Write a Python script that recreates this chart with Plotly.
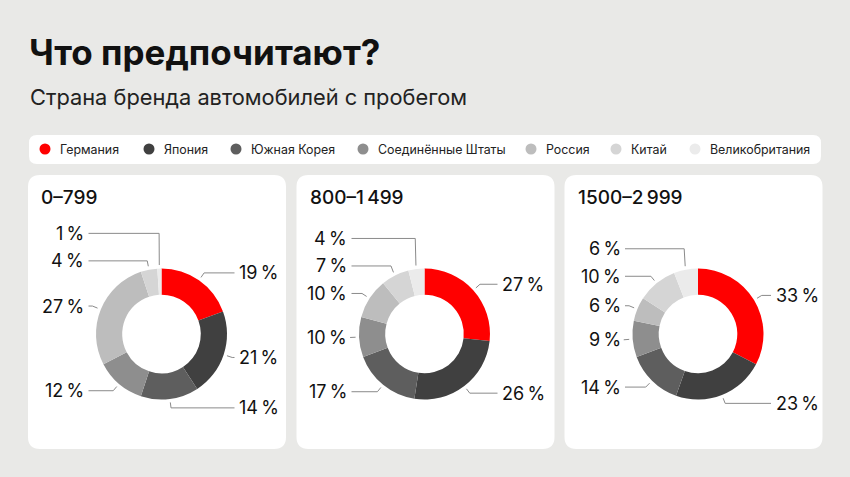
import math
import plotly.graph_objects as go

W, H = 850, 477

# ---- data ----
countries = ["Германия", "Япония", "Южная Корея", "Соединённые Штаты", "Россия", "Китай", "Великобритания"]
colors = ["#ff0000", "#404040", "#5e5e5e", "#8e8e8e", "#bdbdbd", "#d5d5d5", "#ebebeb"]
groups = ["0–799", "800–1\u202f499", "1500–2\u202f999"]
share_0_799 = [19, 21, 14, 12, 27, 4, 1]
share_800_1499 = [27, 26, 17, 10, 10, 7, 4]
share_1500_2999 = [33, 23, 14, 9, 6, 10, 6]
series = [share_0_799, share_800_1499, share_1500_2999]

title = "Что предпочитают?"
subtitle = "Страна бренда автомобилей с пробегом"

# ---- layout constants ----
BG = "#e9e9e7"
FONT = "Inter"
panel_x0 = [28, 296.5, 564.5]
panel_w = 258
panel_y0, panel_y1 = 175, 449
centers_x = [161.5, 424.5, 698]
cy = 334
R = 65.5
HOLE = 0.6
legend_dot_x = [45, 149, 236, 363, 531, 616, 695]
legend_y = 149


def rounded_rect(x0, y0, x1, y1, r):
    return (f"M{x0+r},{y0} L{x1-r},{y0} Q{x1},{y0} {x1},{y0+r} "
            f"L{x1},{y1-r} Q{x1},{y1} {x1-r},{y1} L{x0+r},{y1} "
            f"Q{x0},{y1} {x0},{y1-r} L{x0},{y0+r} Q{x0},{y0} {x0+r},{y0} Z")


fig = go.Figure()
shapes = []
annotations = []

# invisible scatter to anchor axes
fig.add_trace(go.Scatter(x=[0, W], y=[0, H], mode="markers",
                         marker=dict(opacity=0), hoverinfo="skip", showlegend=False))

# title / subtitle
annotations.append(dict(x=27, y=52, xref="x", yref="y", text=title,
                        showarrow=False, xanchor="left", yanchor="middle",
                        font=dict(family=FONT, size=35, color="#111111", weight=700)))
annotations.append(dict(x=28, y=97, xref="x", yref="y", text=subtitle,
                        showarrow=False, xanchor="left", yanchor="middle",
                        font=dict(family=FONT, size=21.8, color="#222222")))

# legend bar
shapes.append(dict(type="path", path=rounded_rect(29, 135, 821, 164, 8),
                   xref="x", yref="y", fillcolor="white", line=dict(width=0), layer="below"))
for name, col, dx in zip(countries, colors, legend_dot_x):
    shapes.append(dict(type="circle", xref="x", yref="y",
                       x0=dx - 5.5, x1=dx + 5.5, y0=legend_y - 5.5, y1=legend_y + 5.5,
                       fillcolor=col, line=dict(width=0), layer="above"))
    annotations.append(dict(x=dx + 13, y=legend_y, xref="x", yref="y", text=name,
                            showarrow=False, xanchor="left", yanchor="middle",
                            font=dict(family=FONT, size=12.4, color="#222222")))

# panels + donuts
for gi, (gname, vals) in enumerate(zip(groups, series)):
    px0 = panel_x0[gi]
    shapes.append(dict(type="path", path=rounded_rect(px0, panel_y0, px0 + panel_w, panel_y1, 12),
                       xref="x", yref="y", fillcolor="white", line=dict(width=0), layer="below"))
    annotations.append(dict(x=px0 + 11, y=197, xref="x", yref="y", text=gname,
                            showarrow=False, xanchor="left", yanchor="middle",
                            font=dict(family=FONT, size=19, color="#111111", weight=500)))
    cx = centers_x[gi]
    fig.add_trace(go.Pie(values=vals, labels=countries, sort=False, direction="clockwise",
                         rotation=0, hole=HOLE, marker=dict(colors=colors, line=dict(width=0)),
                         textinfo="none", hoverinfo="label+value", showlegend=False,
                         domain=dict(x=[(cx - R) / W, (cx + R) / W],
                                     y=[1 - (cy + R) / H, 1 - (cy - R) / H])))

    total = sum(vals)
    cum = 0
    items = []
    for v in vals:
        mid = (cum + v / 2) / total * 2 * math.pi
        cum += v
        items.append(dict(v=v, s=math.sin(mid), c=math.cos(mid)))
    r1, r2 = R + 3.5, R + 9
    for it in items:
        it["y"] = cy - r2 * it["c"]
        it["right"] = it["s"] >= 0
    for side in (True, False):
        side_items = sorted([it for it in items if it["right"] == side], key=lambda d: -d["y"])
        prev = None
        for it in side_items:
            if prev is not None:
                it["y"] = min(it["y"], prev - 27.5)
            prev = it["y"]
    for it in items:
        sgn = 1 if it["right"] else -1
        p1 = (cx + r1 * it["s"], cy - r1 * it["c"])
        p2 = (cx + r2 * it["s"], it["y"])
        p3x = cx + sgn * 73
        pts = [p1, p2]
        if sgn * (p3x - p2[0]) > 0:
            pts.append((p3x, it["y"]))
        path = "M" + " L".join(f"{x:.2f},{y:.2f}" for x, y in pts)
        shapes.append(dict(type="path", path=path, xref="x", yref="y",
                           line=dict(color="#8a8a8a", width=1), layer="above"))
        annotations.append(dict(x=cx + sgn * 75.5, y=it["y"], xref="x", yref="y",
                                text=f"{it['v']}\u202f%", showarrow=False,
                                xanchor="left" if it["right"] else "right", yanchor="middle",
                                font=dict(family=FONT, size=18, color="#111111")))

fig.update_layout(
    width=W, height=H, margin=dict(l=0, r=0, t=0, b=0),
    paper_bgcolor=BG, plot_bgcolor=BG,
    xaxis=dict(range=[0, W], visible=False, fixedrange=True, domain=[0, 1]),
    yaxis=dict(range=[H, 0], visible=False, fixedrange=True, domain=[0, 1]),
    shapes=shapes, annotations=annotations, showlegend=False,
)

fig.write_html("out.html")
